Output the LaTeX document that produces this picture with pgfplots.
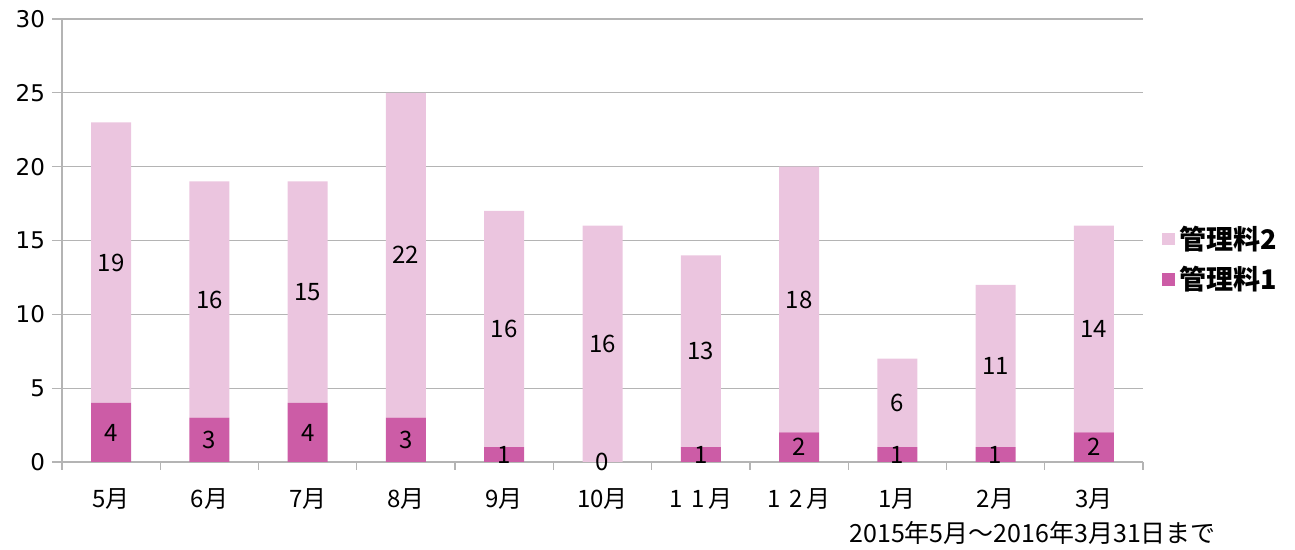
\documentclass[border=0pt]{standalone}
\usepackage{pgfplots}
\pgfplotsset{compat=1.18}
\usepackage{pgfplotstable}
\usepackage{fontspec}
\setmainfont{DejaVu Sans}
\newfontfamily\cjk{Noto Sans CJK JP}
\definecolor{kanri1}{HTML}{CC5CA6}
\definecolor{kanri2}{HTML}{EBC5DF}
\definecolor{axgray}{HTML}{B4B4B4}

\pgfplotstableread{
x a b
0 4 19
1 3 16
2 4 15
3 3 22
4 1 16
5 0 16
6 1 13
7 2 18
8 1 6
9 1 11
10 2 14
}\datatable

\pgfplotstableread{
x ma mb la lb
0 2.0 13.5 4 19
1 1.5 11.0 3 16
2 2.0 11.5 4 15
3 1.5 14.0 3 22
4 0.5 9.0 1 16
5 0.0 8.0 0 16
6 0.5 7.5 1 13
7 1.0 11.0 2 18
8 0.5 4.0 1 6
9 0.5 6.5 1 11
10 1.0 9.0 2 14
}\labeltable

\pgfplotsset{
  base/.style={
    width=540.5pt, height=221.5pt, scale only axis,
    xmin=-0.5, xmax=10.5, ymin=0, ymax=30,
    at={(0,0)}, anchor=south west,
  }
}

\begin{document}
\begin{tikzpicture}
\useasboundingbox (-31pt,-44pt) rectangle (616.5pt,231pt);
\begin{axis}[
  base,
  ybar stacked,
  bar width=20pt,
  axis x line*=bottom,
  axis y line*=left,
  axis line style={draw=axgray, line width=0.6pt},
  ymajorgrids,
  grid style={draw=axgray, line width=0.6pt},
  ytick={0,5,...,30},
  xtick={0,...,10},
  xticklabels={5月,6月,7月,8月,9月,10月,1\hspace{0.35em}1\hspace{0.15em}月,1\hspace{0.35em}2\hspace{0.15em}月,1月,2月,3月},
  minor xtick={-0.5,0.5,...,10.5},
  tick align=outside,
  major tick length=5pt,
  minor tick length=4pt,
  x tick style={draw=none},
  minor x tick style={draw=axgray, line width=0.6pt},
  y tick style={draw=axgray, line width=0.6pt},
  xticklabel style={font=\cjk\fontsize{12}{14}\selectfont, yshift=-5pt},
  yticklabel style={font=\fontsize{11.5}{13}\selectfont},
  /pgf/number format/assume math mode=true,
  legend style={draw=none, fill=none, at={(1.012,0.458)}, anchor=west,
    font=\cjk\bfseries\fontsize{13.5}{16}\selectfont, row sep=3pt,
    /tikz/every even column/.append style={column sep=2pt}},
  legend cell align=left,
  reverse legend,
  legend image code/.code={\fill[#1] (0pt,-3.2pt) rectangle (6.4pt,3.2pt);},
  clip=false,
]
\addplot[fill=kanri1, draw=none] table[x=x, y=a] {\datatable};
\addlegendentry{管理料1}
\addplot[fill=kanri2, draw=none] table[x=x, y=b] {\datatable};
\addlegendentry{管理料2}
\node[anchor=east, font=\cjk\fontsize{12.5}{14}\selectfont] at (rel axis cs:1,0) [xshift=40pt, yshift=-35.5pt] {2015年5月～2016年3月31日まで};
\end{axis}
\begin{axis}[
  base,
  hide axis,
  clip=false,
  nodes near coords,
  point meta=explicit symbolic,
  every node near coord/.append style={anchor=center, font=\cjk\fontsize{12}{14}\selectfont, black},
]
\addplot[draw=none, mark=none] table[x=x, y=ma, meta=la] {\labeltable};
\addplot[draw=none, mark=none] table[x=x, y=mb, meta=lb] {\labeltable};
\end{axis}
\end{tikzpicture}
\end{document}
